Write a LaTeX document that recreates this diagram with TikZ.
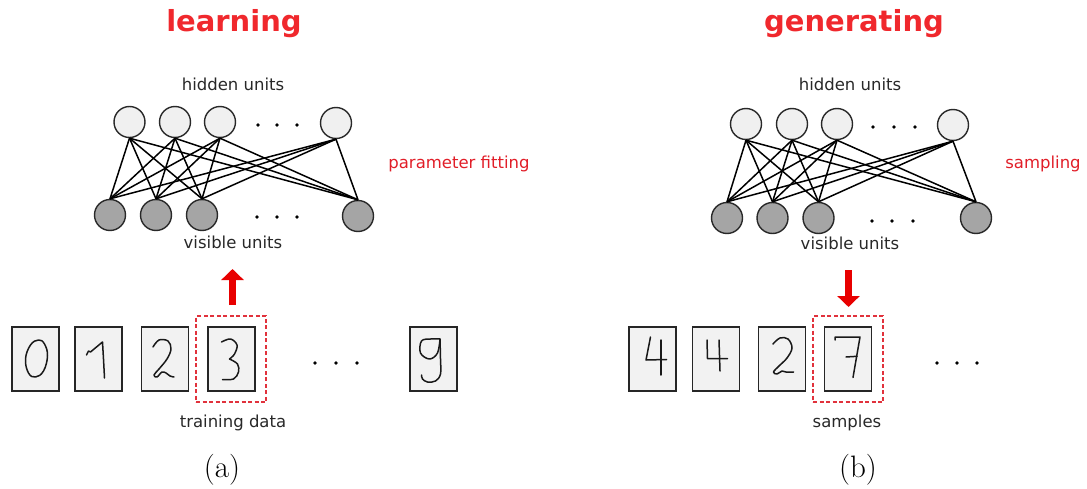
\documentclass[tikz,border=0pt]{standalone}
\usepackage{fontspec}
\newfontfamily\dejavu{DejaVu Sans}
\newfontfamily\dejavub{DejaVu Sans Bold}
\usetikzlibrary{arrows.meta}
\definecolor{titlered}{RGB}{240,40,45}
\definecolor{textred}{RGB}{225,30,40}
\definecolor{arrowred}{RGB}{232,0,0}
\definecolor{dashred}{RGB}{225,50,60}
\definecolor{hidfill}{RGB}{240,240,240}
\definecolor{visfill}{RGB}{165,165,165}
\definecolor{boxfill}{RGB}{242,242,242}
\definecolor{inkgray}{RGB}{40,40,40}
\begin{document}
\begin{tikzpicture}[x=1pt,y=-1pt,
  ttl/.style={font=\dejavub\fontsize{29}{32}\selectfont, text=titlered, inner sep=0},
  lbl/.style={font=\dejavu\fontsize{16.5}{19}\selectfont, text=inkgray, inner sep=0},
  redlbl/.style={font=\dejavu\fontsize{16.5}{19}\selectfont, text=textred, inner sep=0},
  captxt/.style={font=\fontsize{31}{34}\selectfont, inner sep=0},
  hunit/.style={circle, draw=inkgray, line width=1.4pt, fill=hidfill, minimum size=31pt, inner sep=0},
  vunit/.style={circle, draw=inkgray, line width=1.4pt, fill=visfill, minimum size=31pt, inner sep=0},
  wire/.style={line width=1.5pt, black},
  dotmark/.style={circle, fill=black, minimum size=3.6pt, inner sep=0},
  imgbox/.style={draw=black!85, line width=1.8pt, fill=boxfill, minimum width=47pt, minimum height=64pt, inner sep=0},
  selbox/.style={draw=dashred, line width=1.4pt, dash pattern=on 4pt off 2.5pt, minimum width=70pt, minimum height=86pt, inner sep=0},
  digit/.style={line width=1.5pt, black!90, line cap=round, line join=round},
  bigarrow/.style={draw=arrowred, line width=7pt, -{Triangle[width=22pt,length=11pt]}}
]
\useasboundingbox (0,0) rectangle (1087,489);

% ===================== (a) learning =====================
\node[ttl] (tA) at (234,24) {learning};
\node[lbl] (hA) at (233,84) {hidden units};
\node[lbl] (vA) at (233,242) {visible units};
\node[redlbl] (pf) at (459,164) {parameter fitting};

\node[hunit] (ah1) at (129.5,122) {};
\node[hunit] (ah2) at (175,122) {};
\node[hunit] (ah3) at (220,122) {};
\node[hunit] (ah4) at (336,123) {};
\node[vunit] (av1) at (110,215) {};
\node[vunit] (av2) at (156,215) {};
\node[vunit] (av3) at (202,215) {};
\node[vunit] (av4) at (358,216) {};
\foreach \i in {1,2,3,4}{\foreach \j in {1,2,3,4}{\draw[wire] (ah\i.south) -- (av\j.north);}}
\node[dotmark] (ahd1) at (258,125) {};
\node[dotmark] (ahd2) at (277,125) {};
\node[dotmark] (ahd3) at (297,125) {};
\node[dotmark] (avd1) at (257,217) {};
\node[dotmark] (avd2) at (277,217) {};
\node[dotmark] (avd3) at (297,217) {};

\node[selbox] (selA) at (231,359) {};
\node[imgbox] (a0) at (35.5,359) {};
\node[imgbox] (a1) at (98.5,359) {};
\node[imgbox] (a2) at (165,359) {};
\node[imgbox] (a3) at (231.5,359) {};
\node[imgbox] (a9) at (433.5,359) {};
\node[dotmark] (abd1) at (315,363) {};
\node[dotmark] (abd2) at (336,363) {};
\node[dotmark] (abd3) at (357,363) {};
\node[lbl] (tdA) at (233,423) {training data};

\coordinate (uaS) at (232.5,305);
\coordinate (uaE) at (232.5,269);
\draw[bigarrow] (uaS) -- (uaE);

% digits (a)
\begin{scope}[shift={(35.5,359)}]
\draw[digit] plot[smooth cycle, tension=0.7] coordinates {(3,-19) (-5,-14) (-10,0) (-7,14) (0,18) (8,12) (12,-3) (9,-15)};
\end{scope}
\begin{scope}[shift={(98.5,359)}]
\draw[digit] (-12,-4) -- (-10,-8) -- (-8,-7) -- (4,-17) -- (5,0) -- (6,19);
\end{scope}
\begin{scope}[shift={(165,359)}]
\draw[digit] plot[smooth, tension=0.6] coordinates {(-12,-12) (-6,-19) (3,-18) (6,-10) (2,0) (-6,10) (-11,16) (-8,18) (-3,13) (1,14) (5,17) (9,18)};
\end{scope}
\begin{scope}[shift={(231.5,359)}]
\draw[digit] plot[smooth, tension=0.6] coordinates {(-10,-17) (-1,-20) (5.5,-14) (3,-5) (-2,0)};
\draw[digit] plot[smooth, tension=0.6] coordinates {(-2,0) (6,5) (7,13) (2,20) (-9,20.5)};
\end{scope}
\begin{scope}[shift={(433.5,359)}]
\draw[digit] plot[smooth, tension=0.6] coordinates {(6.5,-20) (-3,-20) (-12,-18) (-13,-6) (-4,0) (4,-6) (6.5,-20)};
\draw[digit] plot[smooth, tension=0.6] coordinates {(6.5,-20) (7,0) (7,15) (2,22) (-6,23) (-11,20) (-12,16)};
\end{scope}

\node[captxt] (capA) at (222,470) {(a)};

% ===================== (b) generating =====================
\node[ttl] (tB) at (854,24) {generating};
\node[lbl] (hB) at (850,84) {hidden units};
\node[lbl] (vB) at (850,243) {visible units};
\node[redlbl] (smp) at (1043,164) {sampling};

\node[hunit] (bh1) at (746,124) {};
\node[hunit] (bh2) at (792,124) {};
\node[hunit] (bh3) at (837,124) {};
\node[hunit] (bh4) at (953,125) {};
\node[vunit] (bv1) at (727,218) {};
\node[vunit] (bv2) at (772.5,218) {};
\node[vunit] (bv3) at (818.5,218) {};
\node[vunit] (bv4) at (976,218) {};
\foreach \i in {1,2,3,4}{\foreach \j in {1,2,3,4}{\draw[wire] (bh\i.south) -- (bv\j.north);}}
\node[dotmark] (bhd1) at (873,127) {};
\node[dotmark] (bhd2) at (894,127) {};
\node[dotmark] (bhd3) at (915,127) {};
\node[dotmark] (bvd1) at (872,221) {};
\node[dotmark] (bvd2) at (892,221) {};
\node[dotmark] (bvd3) at (913,221) {};

\node[selbox] (selB) at (848,359) {};
\node[imgbox] (b4a) at (652.5,359) {};
\node[imgbox] (b4b) at (716,359) {};
\node[imgbox] (b2) at (782,359) {};
\node[imgbox] (b7) at (848,359) {};
\node[dotmark] (bbd1) at (937,363) {};
\node[dotmark] (bbd2) at (957,363) {};
\node[dotmark] (bbd3) at (977,363) {};
\node[lbl] (smB) at (847,423) {samples};

\coordinate (daS) at (848.5,270);
\coordinate (daE) at (848.5,307);
\draw[bigarrow] (daS) -- (daE);

% digits (b)
\begin{scope}[shift={(652.5,359)}]
\draw[digit] (-2,-22) -- (-6.5,1) -- (14,0.5);
\draw[digit] (8.5,-19) -- (8.5,16);
\end{scope}
\begin{scope}[shift={(716,359)}]
\draw[digit] (-9,-19) -- (-8.5,-0.3) -- (11.5,-0.3);
\draw[digit] (3,-19) -- (4,12);
\end{scope}
\begin{scope}[shift={(782,359)}]
\draw[digit] plot[smooth, tension=0.6] coordinates {(-9,-15) (-2,-21) (6,-20) (10,-11) (5,-1) (-3,7) (-8.5,13) (-5,15) (0,12) (4,13) (11.5,13)};
\end{scope}
\begin{scope}[shift={(848,359)}]
\draw[digit] (-13,-19) -- (-13,-22) -- (12,-22) -- (5,18.5);
\draw[digit] (-2,-2) -- (9,-2.7);
\end{scope}

\node[captxt] (capB) at (858,470) {(b)};
\end{tikzpicture}
\end{document}
